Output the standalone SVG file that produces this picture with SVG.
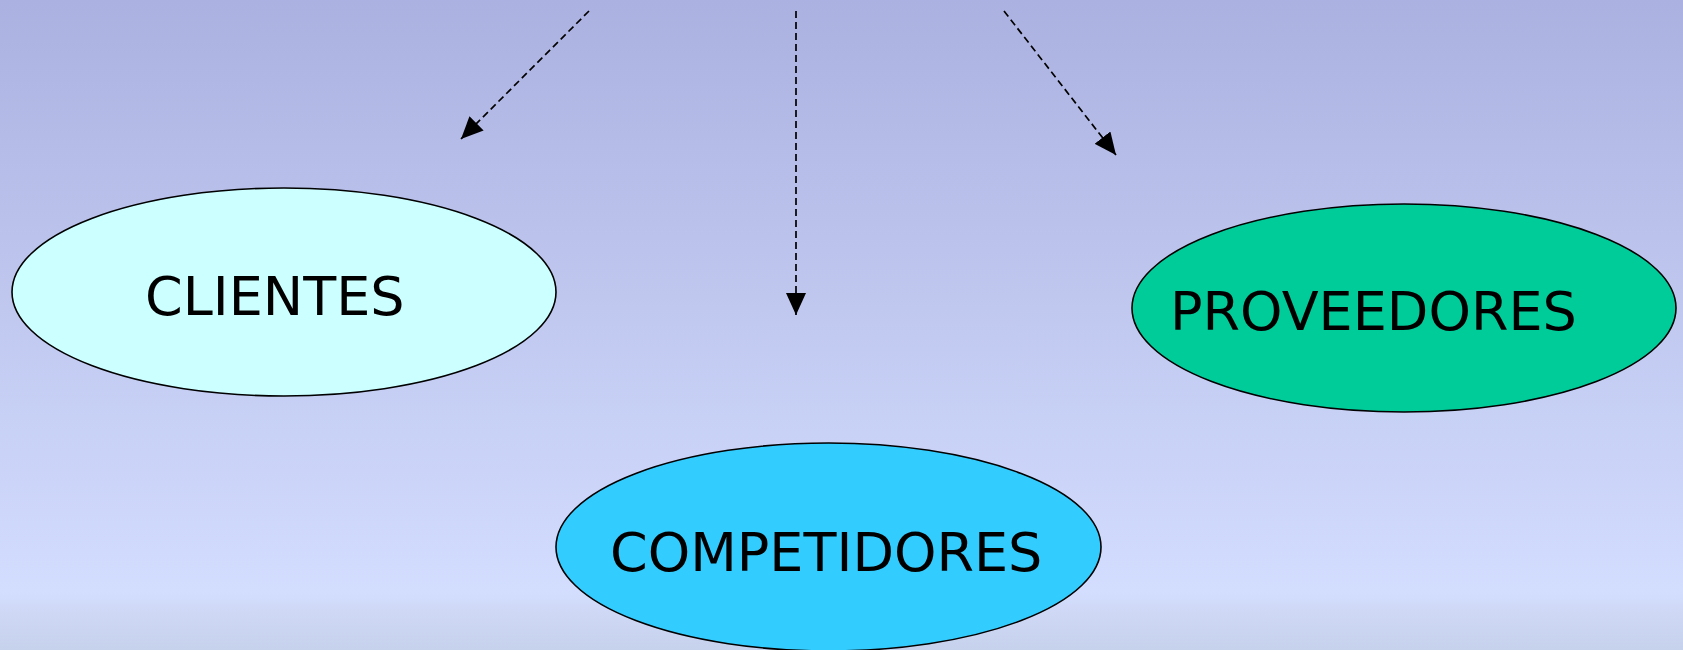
<svg xmlns="http://www.w3.org/2000/svg" width="1683" height="650" viewBox="0 0 1683 650">
  <defs>
    <linearGradient id="bg" x1="0" y1="0" x2="0" y2="1">
      <stop offset="0" stop-color="#abb1e0"/>
      <stop offset="0.91" stop-color="#d3ddfe"/>
      <stop offset="0.94" stop-color="#cfd9f6"/>
      <stop offset="1" stop-color="#c6d1ec"/>
    </linearGradient>
    <marker id="arrow" markerUnits="userSpaceOnUse" markerWidth="22" markerHeight="20" refX="22" refY="10" orient="auto" viewBox="0 0 22 20">
      <path d="M0,0 L22,10 L0,20 Z" fill="#000"/>
    </marker>
  </defs>
  <style>
    .node ellipse { stroke: #000; stroke-width: 1.6; }
    .node text { font-family: "DejaVu Sans", sans-serif; font-size: 54px; fill: #000; }
    .conn line { stroke: #000; stroke-width: 1.7; stroke-dasharray: 7 4; fill: none; marker-end: url(#arrow); }
  </style>
  <rect x="0" y="0" width="1683" height="650" fill="url(#bg)"/>
  <g id="connectors" class="conn">
    <line x1="589" y1="11" x2="461" y2="139"/>
    <line x1="796" y1="11" x2="796" y2="315"/>
    <line x1="1004" y1="11" x2="1116" y2="155"/>
  </g>
  <g id="clientes" class="node">
    <ellipse cx="284" cy="292" rx="272" ry="104" fill="#ccffff"/>
    <text x="145" y="315">CLIENTES</text>
  </g>
  <g id="proveedores" class="node">
    <ellipse cx="1404" cy="308" rx="272" ry="104" fill="#00cc99"/>
    <text x="1170" y="330">PROVEEDORES</text>
  </g>
  <g id="competidores" class="node">
    <ellipse cx="828.5" cy="547" rx="272.5" ry="104" fill="#33ccff"/>
    <text x="610" y="571">COMPETIDORES</text>
  </g>
</svg>
